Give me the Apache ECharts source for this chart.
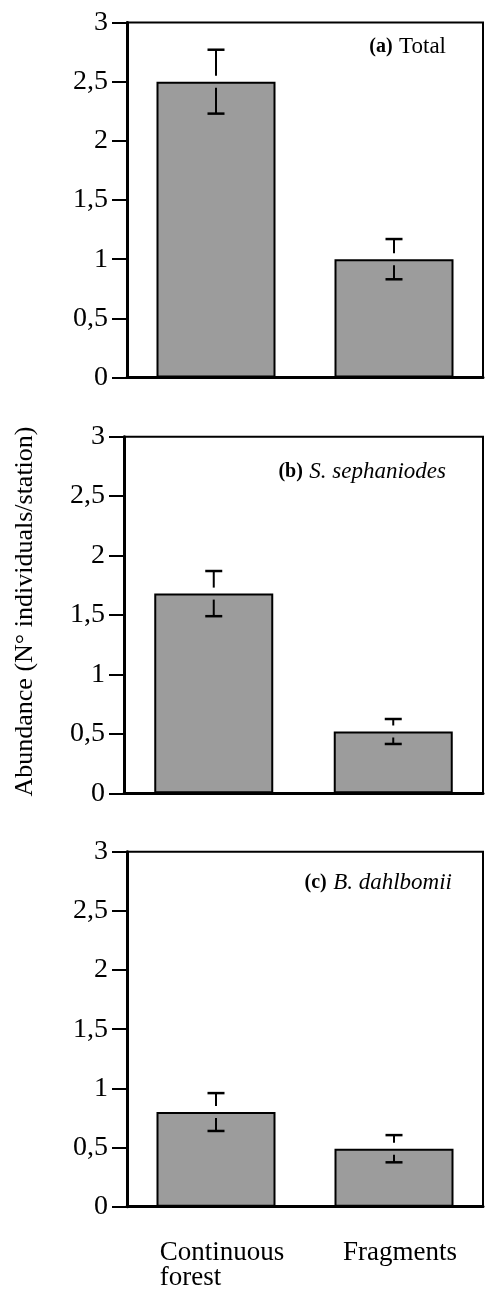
<!DOCTYPE html>
<html><head><meta charset="utf-8">
<script src="https://cdn.jsdelivr.net/npm/echarts@6/dist/echarts.min.js"></script>
<style>html,body{margin:0;padding:0;background:#fff}#c{width:485px;height:1292px}</style>
</head><body><div id="c"></div>
<script>
// ---- data ----
const categories = ['Continuous\nforest', 'Fragments'];
const totalMean = [2.50, 1.00];
const totalErr  = [0.27, 0.17];
const sephMean  = [1.68, 0.52];
const sephErr   = [0.19, 0.105];
const dahlMean  = [0.80, 0.49];
const dahlErr   = [0.16, 0.115];
const yTickLabels = ['0', '0,5', '1', '1,5', '2', '2,5', '3'];
const panelTags   = ['(a)', '(b)', '(c)'];
const panelNames  = ['Total', 'S. sephaniodes', 'B. dahlbomii'];
const yAxisTitle  = 'Abundance (N\u00b0 individuals/station)';

const means = [totalMean, sephMean, dahlMean];
const errs  = [totalErr, sephErr, dahlErr];

// ---- layout ----
const FONT = "'Liberation Serif','Times New Roman',serif";
const grids = [
  {left: 127, top: 22.5, width: 356, height: 355},
  {left: 124, top: 436.7, width: 359, height: 356.6},
  {left: 127, top: 851.7, width: 356, height: 355}
];
const titleTops = [35, 460, 871];
const titleRights = [39, 39, 33];

function errItem(params, api) {
  const i = api.value(0), m = api.value(1), e = api.value(2);
  const top = api.coord([i, m + e]);
  const bot = api.coord([i, m - e]);
  const mid = api.coord([i, m]);
  const x = mid[0], cw = 8.5, gap = 6;
  const st = {stroke: '#000', lineWidth: 2};
  const cs = {stroke: '#000', lineWidth: 2.5};
  const ch = [
    {type: 'line', shape: {x1: x - cw, y1: top[1], x2: x + cw, y2: top[1]}, style: cs},
    {type: 'line', shape: {x1: x, y1: top[1], x2: x, y2: mid[1] - gap}, style: st}
  ];
  if (bot[1] > mid[1] + gap) {
    ch.push({type: 'line', shape: {x1: x, y1: mid[1] + gap, x2: x, y2: bot[1]}, style: st});
  }
  ch.push({type: 'line', shape: {x1: x - cw, y1: bot[1], x2: x + cw, y2: bot[1]}, style: cs});
  return {type: 'group', children: ch};
}

const xAxes = [], yAxes = [], series = [], titles = [];
grids.forEach((g, k) => {
  g.show = true; g.borderColor = '#000'; g.borderWidth = 2; g.backgroundColor = 'transparent';
  xAxes.push({
    type: 'category', gridIndex: k, data: categories,
    axisLine: {lineStyle: {color: '#000', width: 3}},
    axisTick: {alignWithLabel: true, length: 12, lineStyle: {color: '#000', width: 2}},
    axisLabel: {
      show: k === 2, margin: 34, interval: 0, padding: [0, 0, 0, 12],
      formatter: v => v.split('\n').map(s => '{l|' + s + '}').join('\n'),
      rich: {l: {fontFamily: FONT, fontSize: 27, lineHeight: 25, color: '#000', align: 'left'}}
    }
  });
  yAxes.push({
    type: 'value', gridIndex: k, min: 0, max: 3, interval: 0.5,
    splitLine: {show: false},
    axisLine: {show: true, lineStyle: {color: '#000', width: 3}},
    axisTick: {show: true, length: 15, lineStyle: {color: '#000', width: 2}},
    axisLabel: {
      margin: 19, fontFamily: FONT, fontSize: 28, color: '#000',
      formatter: v => yTickLabels[Math.round(v * 2)]
    }
  });
  series.push({
    type: 'bar', xAxisIndex: k, yAxisIndex: k, barWidth: 119,
    data: means[k],
    itemStyle: {color: '#9c9c9c', borderColor: '#000', borderWidth: 2},
    silent: true
  });
  series.push({
    type: 'custom', xAxisIndex: k, yAxisIndex: k, z: 5,
    renderItem: errItem,
    encode: {x: 0, y: 1},
    data: means[k].map((m, i) => [i, m, errs[k][i]]),
    silent: true
  });
  titles.push({
    text: '{b|' + panelTags[k] + '} {n|' + panelNames[k] + '}',
    right: titleRights[k], top: titleTops[k], padding: 0,
    textStyle: {
      fontWeight: 'normal', fontSize: 23,
      rich: {
        b: {fontFamily: FONT, fontSize: 20, fontWeight: 'bold', color: '#000', lineHeight: 24},
        n: {fontFamily: FONT, fontSize: 23, fontWeight: 'normal', fontStyle: k === 0 ? 'normal' : 'italic', color: '#000', lineHeight: 24}
      }
    }
  });
});

const chart = echarts.init(document.getElementById('c'), null, {renderer: 'canvas'});
chart.setOption({
  backgroundColor: '#fff',
  animation: false,
  title: titles,
  grid: grids,
  xAxis: xAxes,
  yAxis: yAxes,
  series: series,
  graphic: [{
    type: 'text', x: 25, y: 611.5, rotation: Math.PI / 2,
    style: {text: yAxisTitle, fontFamily: FONT, fontSize: 26, fill: '#000', align: 'center', verticalAlign: 'middle'}
  }]
});
</script>
</body></html>
